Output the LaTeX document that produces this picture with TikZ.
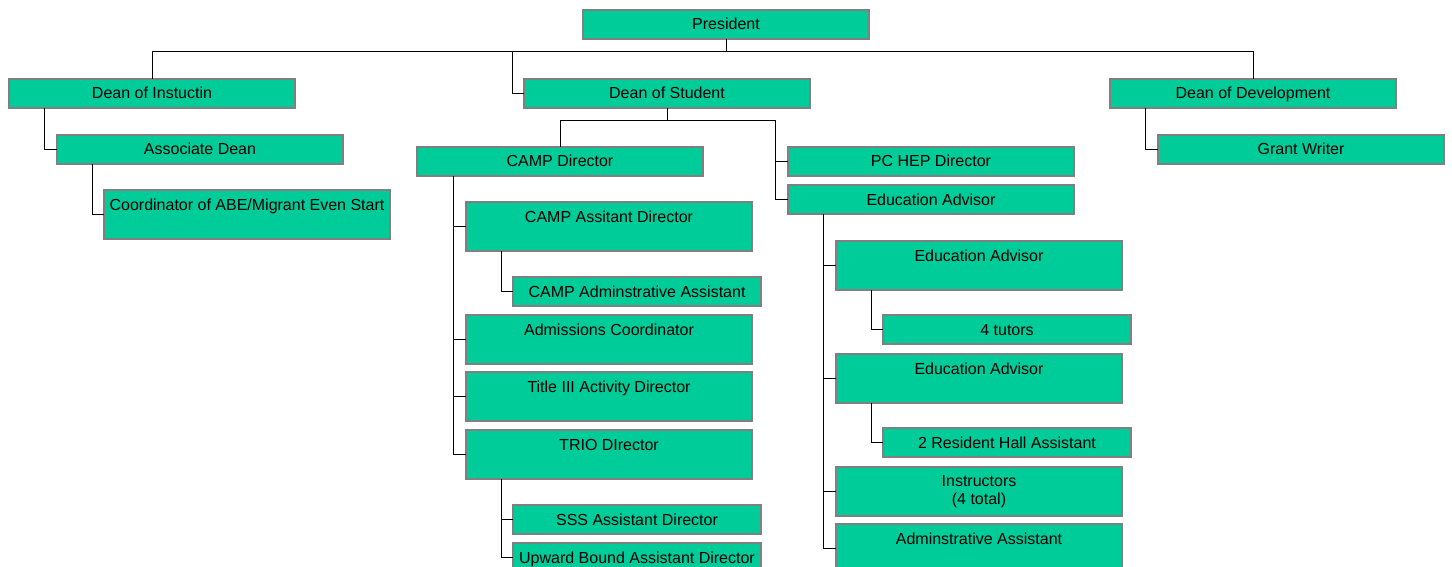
\documentclass[tikz,border=0pt]{standalone}
\usepackage{fontspec}
\setmainfont{Liberation Sans}
\definecolor{boxfill}{HTML}{00CC99}
\definecolor{boxline}{HTML}{808080}
\begin{document}
\begin{tikzpicture}[x=1pt,y=-1pt,
  box/.style={draw=boxline,line width=1.1pt,fill=boxfill,inner sep=0pt,outer sep=0pt,
    anchor=north west,font=\fontsize{16}{18}\selectfont,text height=12pt,text depth=1pt,
    minimum height=29pt},
  tallbox/.style={box,minimum height=49pt,text depth=20pt},
  twoline/.style={draw=boxline,line width=1.1pt,fill=boxfill,inner sep=0pt,outer sep=0pt,
    anchor=north west,font=\fontsize{16}{18}\selectfont,align=center,minimum height=49pt},
  wA/.style={minimum width=286pt},
  wB/.style={minimum width=248pt},
  link/.style={draw=black,line width=1pt}]
\useasboundingbox (0,0) rectangle (1452,567);
\clip (0,0) rectangle (1452,567);
% top level
\node[box,wA] (pres) at (583,10) {President};
\node[box,wA] (dinst) at (9,79) {Dean of Instuctin};
\node[box,wA] (dstu) at (524,79) {Dean of Student};
\node[box,wA] (ddev) at (1110,79) {Dean of Development};
% instruction branch
\node[box,wA] (assoc) at (57,135) {Associate Dean};
\node[tallbox,wA] (coord) at (104,190) {Coordinator of ABE/Migrant Even Start};
% development branch
\node[box,wA] (grant) at (1158,135) {Grant Writer};
% student branch
\node[box,wA] (campd) at (417,147) {CAMP Director};
\node[box,wA] (pchep) at (788,147) {PC HEP Director};
\node[box,wA] (edadv) at (788,185) {Education Advisor};
% CAMP director children
\node[tallbox,wA] (campa) at (466,202) {CAMP Assitant Director};
\node[box,wB] (campadm) at (513,277) {CAMP Adminstrative Assistant};
\node[tallbox,wA] (adm) at (466,315) {Admissions Coordinator};
\node[tallbox,wA] (title) at (466,372) {Title III Activity Director};
\node[tallbox,wA] (trio) at (466,430) {TRIO DIrector};
\node[box,wB] (sss) at (513,505) {SSS Assistant Director};
\node[box,wB] (upward) at (513,543) {Upward Bound Assistant Director};
% education advisor children
\node[tallbox,wA] (ea1) at (836,241) {Education Advisor};
\node[box,wB] (tutors) at (883,315) {4 tutors};
\node[tallbox,wA] (ea2) at (836,354) {Education Advisor};
\node[box,wB] (rha) at (883,428) {2 Resident Hall Assistant};
\node[twoline,wA] (instr) at (836,467) {Instructors\\(4 total)};
\node[tallbox,wA] (admas) at (836,524) {Adminstrative Assistant};
% connectors
\coordinate (bus) at (0,52);
\coordinate (sb) at (775,121);
\draw[link] (pres.south) -- (pres.south |- bus);
\draw[link] (dinst.north) |- (ddev.north |- bus) -- (ddev.north);
\draw[link] (dstu.west) -- ([xshift=-12pt]dstu.west) |- (bus -| dinst.north);
\draw[link] ([xshift=35pt]dinst.south west) |- (assoc.west);
\draw[link] ([xshift=35pt]assoc.south west) |- (coord.west);
\draw[link] ([xshift=35pt]ddev.south west) |- (grant.west);
\draw[link] (dstu.south) -- (dstu.south |- sb);
\draw[link] (campd.north) |- (sb) |- (edadv.west);
\draw[link] (sb |- pchep.west) -- (pchep.west);
\draw[link] ([xshift=36pt]campd.south west) |- (trio.west);
\draw[link] ([xshift=36pt]campd.south west) |- (campa.west);
\draw[link] ([xshift=36pt]campd.south west) |- (adm.west);
\draw[link] ([xshift=36pt]campd.south west) |- (title.west);
\draw[link] ([xshift=35pt]campa.south west) |- (campadm.west);
\draw[link] ([xshift=35pt]trio.south west) |- (upward.west);
\draw[link] ([xshift=35pt]trio.south west) |- (sss.west);
\draw[link] ([xshift=35pt]edadv.south west) |- (admas.west);
\draw[link] ([xshift=35pt]edadv.south west) |- (ea1.west);
\draw[link] ([xshift=35pt]edadv.south west) |- (ea2.west);
\draw[link] ([xshift=35pt]edadv.south west) |- (instr.west);
\draw[link] ([xshift=35pt]ea1.south west) |- (tutors.west);
\draw[link] ([xshift=35pt]ea2.south west) |- (rha.west);
\end{tikzpicture}
\end{document}
